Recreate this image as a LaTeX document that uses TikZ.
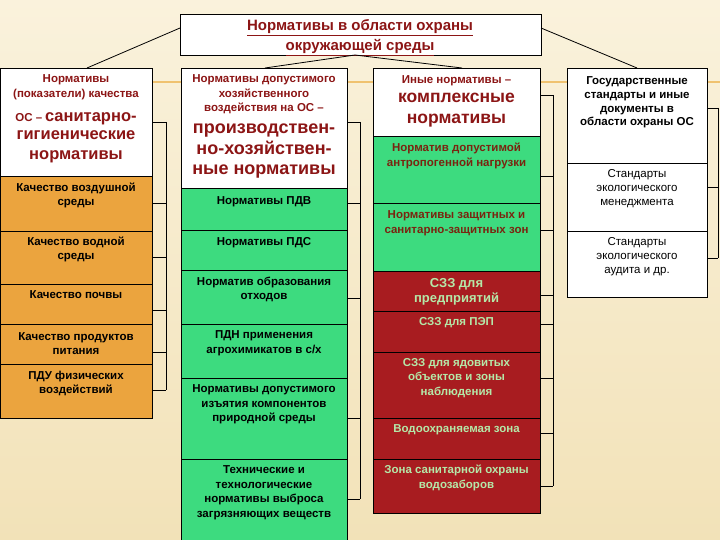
\documentclass[tikz,border=0pt]{standalone}
\usepackage{fontspec}
\setmainfont{Liberation Sans}
\definecolor{bgA}{HTML}{FAF2DC}
\definecolor{bgB}{HTML}{F2E2B8}
\definecolor{deco}{HTML}{F0C270}
\definecolor{orangeC}{HTML}{EBA43E}
\definecolor{greenC}{HTML}{3DDB7F}
\definecolor{redC}{HTML}{A81C20}
\definecolor{dred}{HTML}{8C1515}
\definecolor{brownT}{HTML}{7A2410}
\definecolor{lgreen}{HTML}{B5E8A8}
\begin{document}
\begin{tikzpicture}[x=1pt,y=-1pt,
  cell/.style={draw=black, line width=0.8pt, anchor=north west, inner sep=0pt, outer sep=0pt},
  sm/.style={align=center, inner sep=0pt, font=\bfseries\fontsize{11.5}{14.5}\selectfont},
  smr/.style={align=center, inner sep=0pt, font=\fontsize{11.5}{14}\selectfont},
  big/.style={align=center, inner sep=0pt, font=\bfseries\fontsize{16.5}{20}\selectfont},
  lnk/.style={draw=black, line width=0.8pt}]
\useasboundingbox (0,0) rectangle (720,540);
\shade[top color=bgA, bottom color=bgB] (0,0) rectangle (720,540);
\draw[deco, line width=2pt] (0,82) -- (720,82);

% ---------- top box ----------
\node[cell, fill=white, minimum width=361pt, minimum height=41pt] (top) at (180,14) {};
\node[align=center, inner sep=0pt, text=dred, font=\bfseries\fontsize{15}{20}\selectfont] (topt) at (360,38)
  {\underline{Нормативы в области охраны}\\\underline{окружающей среды}};

% ---------- column 1 ----------
\node[cell, fill=white,   minimum width=152pt, minimum height=108pt] (c1h) at (0.5,68) {};
\node[cell, fill=orangeC, minimum width=152pt, minimum height=55pt]  (c1a) at (0.5,176) {};
\node[cell, fill=orangeC, minimum width=152pt, minimum height=53pt]  (c1b) at (0.5,231) {};
\node[cell, fill=orangeC, minimum width=152pt, minimum height=40pt]  (c1c) at (0.5,284) {};
\node[cell, fill=orangeC, minimum width=152pt, minimum height=40pt]  (c1d) at (0.5,324) {};
\node[cell, fill=orangeC, minimum width=152pt, minimum height=54pt]  (c1e) at (0.5,364) {};
\node[sm, text=dred] (c1h1) at (76,87) {Нормативы\\(показатели) качества};
\node[inner sep=0pt, text=dred] (c1h2) at (76,119) {{\bfseries\fontsize{11.5}{14}\selectfont ОС –} {\bfseries\fontsize{16.5}{20}\selectfont санитарно-}};
\node[big, text=dred] (c1h3) at (76,147) {гигиенические\\нормативы};
\node[sm] (c1at) at (76,195.5) {Качество воздушной\\среды};
\node[sm] (c1bt) at (76,249.5) {Качество водной\\среды};
\node[sm] (c1ct) at (76,295) {Качество почвы};
\node[sm] (c1dt) at (76,343.5) {Качество продуктов\\питания};
\node[sm] (c1et) at (76,383.5) {ПДУ физических\\воздействий};

% ---------- column 2 ----------
\node[cell, fill=white,  minimum width=166pt, minimum height=120pt] (c2h) at (181,68) {};
\node[cell, fill=greenC, minimum width=166pt, minimum height=42pt]  (c2a) at (181,188) {};
\node[cell, fill=greenC, minimum width=166pt, minimum height=40pt]  (c2b) at (181,230) {};
\node[cell, fill=greenC, minimum width=166pt, minimum height=54pt]  (c2c) at (181,270) {};
\node[cell, fill=greenC, minimum width=166pt, minimum height=54pt]  (c2d) at (181,324) {};
\node[cell, fill=greenC, minimum width=166pt, minimum height=81pt]  (c2e) at (181,378) {};
\node[cell, fill=greenC, minimum width=166pt, minimum height=82pt]  (c2f) at (181,459) {};
\node[sm, text=dred] (c2h1) at (264,94.5) {Нормативы допустимого\\хозяйственного\\воздействия на ОС –};
\node[big, text=dred, font=\bfseries\fontsize{18}{20.5}\selectfont] (c2h2) at (264,151.5) {производствен-\\но-хозяйствен-\\ные нормативы};
\node[sm] (c2at) at (264,202) {Нормативы ПДВ};
\node[sm] (c2bt) at (264,243) {Нормативы ПДС};
\node[sm] (c2ct) at (264,289.5) {Норматив образования\\отходов};
\node[sm] (c2dt) at (264,343) {ПДН применения\\агрохимикатов в с/х};
\node[sm] (c2et) at (264,404.5) {Нормативы допустимого\\изъятия компонентов\\природной среды};
\node[sm] (c2ft) at (264,492.75) {Технические и\\технологические\\нормативы выброса\\загрязняющих веществ};

% ---------- column 3 ----------
\node[cell, fill=white,  minimum width=167pt, minimum height=68pt] (c3h) at (373,68) {};
\node[cell, fill=greenC, minimum width=167pt, minimum height=67pt] (c3a) at (373,136) {};
\node[cell, fill=greenC, minimum width=167pt, minimum height=68pt] (c3b) at (373,203) {};
\node[cell, fill=redC,   minimum width=167pt, minimum height=40pt] (c3c) at (373,271) {};
\node[cell, fill=redC,   minimum width=167pt, minimum height=41pt] (c3d) at (373,311) {};
\node[cell, fill=redC,   minimum width=167pt, minimum height=66pt] (c3e) at (373,352) {};
\node[cell, fill=redC,   minimum width=167pt, minimum height=41pt] (c3f) at (373,418) {};
\node[cell, fill=redC,   minimum width=167pt, minimum height=54pt] (c3g) at (373,459) {};
\node[sm, text=dred] (c3h1) at (456.5,81) {Иные нормативы –};
\node[big, text=dred, font=\bfseries\fontsize{17.5}{21}\selectfont] (c3h2) at (456.5,110.5) {комплексные\\нормативы};
\node[sm, text=brownT] (c3at) at (456.5,156) {Норматив допустимой\\антропогенной нагрузки};
\node[sm, text=brownT] (c3bt) at (456.5,223) {Нормативы защитных и\\санитарно-защитных зон};
\node[sm, text=lgreen, font=\bfseries\fontsize{13}{15}\selectfont] (c3ct) at (456.5,291.5) {СЗЗ для\\предприятий};
\node[sm, text=lgreen] (c3dt) at (456.5,323) {СЗЗ для ПЭП};
\node[sm, text=lgreen] (c3et) at (456.5,377.7) {СЗЗ для ядовитых\\объектов и зоны\\наблюдения};
\node[sm, text=lgreen] (c3ft) at (456.5,430) {Водоохраняемая зона};
\node[sm, text=lgreen] (c3gt) at (456.5,478) {Зона санитарной охраны\\водозаборов};

% ---------- column 4 ----------
\node[cell, fill=white, minimum width=140pt, minimum height=95pt] (c4h) at (567,68) {};
\node[cell, fill=white, minimum width=140pt, minimum height=68pt] (c4a) at (567,163) {};
\node[cell, fill=white, minimum width=140pt, minimum height=66pt] (c4b) at (567,231) {};
\node[sm, font=\bfseries\fontsize{11.5}{13.7}\selectfont] (c4h1) at (637,102.5) {Государственные\\стандарты и иные\\документы в\\области охраны ОС};
\node[smr] (c4at) at (637,189) {Стандарты\\экологического\\менеджмента};
\node[smr] (c4bt) at (637,256.5) {Стандарты\\экологического\\аудита и др.};

% ---------- connectors from the top box ----------
\coordinate (tl) at (180,28);
\coordinate (tr) at (541,28);
\coordinate (tm) at (355,55);
\coordinate (p1) at (87,68);
\coordinate (p2) at (265,68);
\coordinate (p3) at (462,68);
\coordinate (p4) at (637,68);
\draw[lnk] (tl) -- (p1);
\draw[lnk] (p2) -- (tm) -- (p3);
\draw[lnk] (tr) -- (p4);

% ---------- brackets ----------
\coordinate (b1t) at (166,122); \coordinate (b1b) at (166,390);
\draw[lnk] (b1t) -- (b1b);
\foreach \yy in {122,203,257,310,352,390} \draw[lnk] (152.5,\yy) -- (166,\yy);
\coordinate (b2t) at (360,122); \coordinate (b2b) at (360,499);
\draw[lnk] (b2t) -- (b2b);
\foreach \yy in {122,203,298,418,499} \draw[lnk] (347,\yy) -- (360,\yy);
\coordinate (b3t) at (553,95); \coordinate (b3b) at (553,486);
\draw[lnk] (b3t) -- (b3b);
\foreach \yy in {95,176,230,295,324,378,433,486} \draw[lnk] (540,\yy) -- (553,\yy);
\coordinate (b4t) at (718,108); \coordinate (b4b) at (718,258);
\draw[lnk] (b4t) -- (b4b);
\foreach \yy in {108,187,258} \draw[lnk] (707,\yy) -- (718,\yy);
\end{tikzpicture}
\end{document}
